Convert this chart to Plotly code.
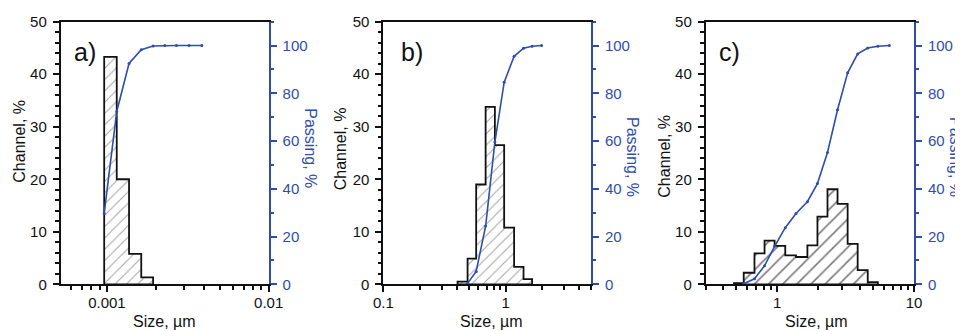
import math
import plotly.graph_objects as go

# ---------------- data ----------------
# panel a)
a_edges = [0.000962, 0.00115, 0.00137, 0.00163, 0.00193]
a_channel = [43.3, 20.0, 5.8, 1.3]
a_pass_size = [0.000962, 0.00115, 0.00137, 0.00163, 0.00193, 0.00228, 0.00269, 0.00322, 0.00386]
a_pass = [29.7, 72.4, 92.5, 98.3, 99.8, 100, 100, 100, 100]

# panel b)
b_edges = [0.405, 0.489, 0.575, 0.687, 0.818, 0.974, 1.175, 1.403, 1.649]
b_channel = [0.5, 4.9, 19.0, 33.8, 26.5, 10.8, 3.3, 1.0]
b_pass_size = [0.489, 0.575, 0.687, 0.818, 0.974, 1.175, 1.403, 1.649, 1.97]
b_pass = [0.4, 5.4, 24.4, 59.6, 84.6, 95.5, 98.9, 99.7, 100]

# panel c)
c_edges = [0.483, 0.569, 0.682, 0.808, 0.957, 1.145, 1.372, 1.662, 1.968, 2.331,
           2.761, 3.272, 3.874, 4.59, 5.44]
c_channel = [0.2, 2.2, 5.9, 8.3, 7.3, 5.5, 5.2, 7.4, 12.9, 18.1, 15.3, 7.7, 2.7, 0.4]
c_pass_size = [0.569, 0.682, 0.808, 0.957, 1.145, 1.372, 1.662, 1.968, 2.331, 2.761,
               3.272, 3.874, 4.59, 5.44, 6.6]
c_pass = [0.2, 2.3, 7.8, 15.9, 23.7, 29.7, 34.6, 42.2, 55.2, 73.1, 88.6, 96.5, 99.0, 99.7, 100]

panel_labels = ["a)", "b)", "c)"]
a_major = [0.001, 0.01]
a_major_text = ["0.001", "0.01"]
b_major = [0.1, 1]
b_major_text = ["0.1", "1"]
c_major = [1, 10]
c_major_text = ["1", "10"]
x_title = "Size, µm"
yl_title = "Channel, %"
yr_title = "Passing, %"

# ---------------- style ----------------
# the page body keeps the browser's default 8 px margin, so the figure is
# drawn 8 px in from the top-left corner of the window.
OFF = 8
W, H = 963 - OFF, 331 - OFF
FONT = "Liberation Sans, Arial, sans-serif"
BLUE = "#2F4DAA"
BLACK = "#111111"


def fx(px):
    return (px - OFF) / W


def fy(py):
    return 1 - (py - OFF) / H


def minor_vals(lo, hi):
    vals = []
    dec = math.floor(math.log10(lo))
    while 10 ** dec <= hi:
        for d in range(2, 10):
            v = d * 10 ** dec
            if lo * 0.999 <= v <= hi * 1.001:
                vals.append(v)
        dec += 1
    return vals


def step_polygon(edges, heights):
    xs, ys = [edges[0]], [0]
    for i, h in enumerate(heights):
        xs += [edges[i], edges[i + 1]]
        ys += [h, h]
    xs += [edges[-1], edges[0]]
    ys += [0, 0]
    return xs, ys


panels = [
    dict(edges=a_edges, ch=a_channel, ps=a_pass_size, pv=a_pass, rng=(0.000518, 0.01),
         major=a_major, major_text=a_major_text, px=(60.7, 268.7),
         pat=dict(shape="/", size=8, solidity=0.12, fgcolor="#444444", bgcolor="white")),
    dict(edges=b_edges, ch=b_channel, ps=b_pass_size, pv=b_pass, rng=(0.1, 5),
         major=b_major, major_text=b_major_text, px=(383.3, 591.0),
         pat=dict(shape="/", size=8, solidity=0.12, fgcolor="#444444", bgcolor="white")),
    dict(edges=c_edges, ch=c_channel, ps=c_pass_size, pv=c_pass, rng=(0.3, 10),
         major=c_major, major_text=c_major_text, px=(705.7, 914.0),
         pat=dict(shape="/", size=10, solidity=0.17, fgcolor="#000000", bgcolor="white")),
]

Y_TOP, Y_BOT = 21.7, 284.3
ydom = [fy(Y_BOT), fy(Y_TOP)]

fig = go.Figure()
layout = dict(
    width=W, height=H, margin=dict(l=0, r=0, t=0, b=0, pad=0, autoexpand=False),
    paper_bgcolor="white", plot_bgcolor="white", showlegend=False,
    font=dict(family=FONT, size=15, color=BLACK),
)
annotations = []

for i, p in enumerate(panels):
    n = i + 1
    xa = "x" if n == 1 else f"x{n}"
    yl = 2 * n - 1
    yr = 2 * n
    yla = "y" if yl == 1 else f"y{yl}"
    yra = f"y{yr}"

    xs, ys = step_polygon(p["edges"], p["ch"])
    fig.add_trace(go.Scatter(
        x=xs, y=ys, xaxis=xa, yaxis=yla, mode="lines", fill="toself",
        fillcolor="white", fillpattern=p["pat"],
        line=dict(color=BLACK, width=1.8), hoverinfo="skip"))
    fig.add_trace(go.Scatter(
        x=p["ps"], y=p["pv"], xaxis=xa, yaxis=yra, mode="lines+markers",
        line=dict(color=BLUE, width=1.6), marker=dict(color=BLUE, size=3)))

    x0, x1 = p["px"]
    xkey = "xaxis" if n == 1 else f"xaxis{n}"
    ylkey = "yaxis" if yl == 1 else f"yaxis{yl}"
    yrkey = f"yaxis{yr}"
    layout[xkey] = dict(
        type="log", domain=[fx(x0), fx(x1)], anchor=yla, automargin=False,
        range=[math.log10(p["rng"][0]), math.log10(p["rng"][1])],
        tickvals=p["major"], ticktext=p["major_text"], ticks="outside",
        ticklen=6, tickwidth=1.5, tickcolor=BLACK,
        minor=dict(tickvals=minor_vals(p["rng"][0], p["rng"][1]), ticks="outside",
                   ticklen=3.5, tickwidth=1.5, tickcolor=BLACK, showgrid=False),
        showline=True, linecolor=BLACK, linewidth=1.8, mirror=True,
        showgrid=False, zeroline=False, tickfont=dict(size=15, color=BLACK),
        ticklabelstandoff=-2,
    )
    layout[ylkey] = dict(
        domain=ydom, anchor=xa, range=[0, 50], tickvals=[0, 10, 20, 30, 40, 50],
        automargin=False,
        ticks="outside", ticklen=6, tickwidth=1.5, tickcolor=BLACK,
        minor=dict(dtick=2, tick0=0, ticks="outside", ticklen=3.5, tickwidth=1.5,
                   tickcolor=BLACK, showgrid=False),
        showline=True, linecolor=BLACK, linewidth=1.8, showgrid=False, zeroline=False,
        tickfont=dict(size=15, color=BLACK), ticklabelstandoff=3,
    )
    layout[yrkey] = dict(
        overlaying=yla, anchor=xa, side="right", range=[0, 110], automargin=False,
        tickvals=[0, 20, 40, 60, 80, 100], ticks="outside", ticklen=6, tickwidth=1.5,
        tickcolor=BLUE,
        minor=dict(dtick=10, tick0=0, ticks="outside", ticklen=3.5, tickwidth=1.5,
                   tickcolor=BLUE, showgrid=False),
        showline=True, linecolor=BLUE, linewidth=1.8, showgrid=False, zeroline=False,
        tickfont=dict(size=15, color=BLUE), ticklabelstandoff=3,
    )

    # panel label
    annotations.append(dict(
        text=panel_labels[i], xref="paper", yref="paper",
        x=fx(x0 + (11.5 if n != 2 else 15.5)), y=fy(52),
        xanchor="left", yanchor="middle", showarrow=False,
        font=dict(size=25, color=BLACK, family=FONT)))
    # x title
    annotations.append(dict(
        text=x_title, xref="paper", yref="paper",
        x=fx((x0 + x1) / 2 + [0, 4, 7][i]), y=fy(321),
        xanchor="center", yanchor="middle", showarrow=False,
        font=dict(size=16, color=BLACK, family=FONT)))
    # left y title
    annotations.append(dict(
        text=yl_title, xref="paper", yref="paper", textangle=-90,
        x=fx(x0 - 42), y=fy([141, 149, 156][i]),
        xanchor="center", yanchor="middle", showarrow=False,
        font=dict(size=16, color=BLACK, family=FONT)))
    # right y title
    annotations.append(dict(
        text=yr_title, xref="paper", yref="paper", textangle=90,
        x=fx(x1 + 42), y=fy([148, 157, 157][i]),
        xanchor="center", yanchor="middle", showarrow=False,
        font=dict(size=16, color=BLUE, family=FONT)))

layout["annotations"] = annotations
fig.update_layout(**layout)
fig.write_html("out.html")
